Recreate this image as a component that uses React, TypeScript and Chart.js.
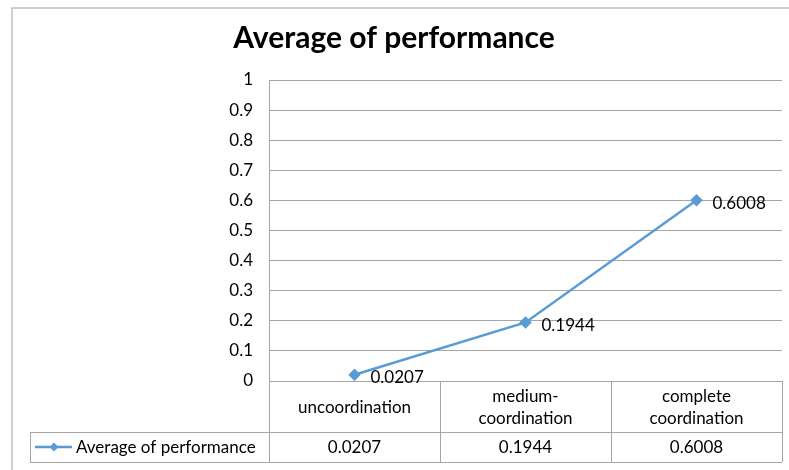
import React, { useEffect, useRef } from "react";
import { Chart, registerables } from "chart.js";

Chart.register(...registerables);

const titleText = "Average of performance";
const seriesName = "Average of performance";
const categories: string[][] = [["uncoordination"], ["medium-", "coordination"], ["complete", "coordination"]];
const values: number[] = [0.0207, 0.1944, 0.6008];
const valueLabels: string[] = ["0.0207", "0.1944", "0.6008"];
const yTickLabels: string[] = ["0", "0.1", "0.2", "0.3", "0.4", "0.5", "0.6", "0.7", "0.8", "0.9", "1"];

const FONT = "Lato, 'Open Sans', sans-serif";
const GRID = "#a6a6a6";
const BLUE = "#5B9BD5";

const tablePlugin = {
  id: "tablePlugin",
  afterDraw(chart: any) {
    const ctx = chart.ctx as CanvasRenderingContext2D;
    const area = chart.chartArea;
    const xs = chart.scales.x;
    const ys = chart.scales.y;
    const n = values.length;
    const colW = (area.right - area.left) / n;
    const row1Top = area.bottom;
    const row2Top = row1Top + 51;
    const row2Bottom = row2Top + 30;
    const legendLeft = 30;

    ctx.save();
    ctx.strokeStyle = "#bfbfbf";
    ctx.lineWidth = 1.5;
    ctx.beginPath();
    ctx.moveTo(12, 470);
    ctx.lineTo(12, 8);
    ctx.lineTo(789, 8);
    ctx.stroke();

    ctx.fillStyle = "#000";
    ctx.font = `bold 30px ${FONT}`;
    ctx.textAlign = "center";
    ctx.textBaseline = "alphabetic";
    ctx.fillText(titleText, 394, 48);

    ctx.strokeStyle = GRID;
    ctx.lineWidth = 1;
    ctx.beginPath();
    ctx.moveTo(area.left, row1Top + 0.5);
    ctx.lineTo(area.right, row1Top + 0.5);
    ctx.moveTo(legendLeft, row2Top + 0.5);
    ctx.lineTo(area.right, row2Top + 0.5);
    ctx.moveTo(legendLeft, row2Bottom + 0.5);
    ctx.lineTo(area.right, row2Bottom + 0.5);
    ctx.moveTo(legendLeft + 0.5, row2Top);
    ctx.lineTo(legendLeft + 0.5, row2Bottom);
    ctx.moveTo(area.left + 0.5, row1Top);
    ctx.lineTo(area.left + 0.5, row2Bottom);
    for (let i = 0; i < n; i++) {
      const xr = Math.round(xs.getPixelForValue(i) + colW / 2) + 0.5;
      ctx.moveTo(xr, row1Top);
      ctx.lineTo(xr, row2Bottom);
    }
    ctx.stroke();

    ctx.fillStyle = "#000";
    ctx.font = `17px ${FONT}`;
    ctx.textAlign = "center";
    ctx.textBaseline = "middle";
    const r1Mid = (row1Top + row2Top) / 2 + 1;
    const r2Mid = (row2Top + row2Bottom) / 2 + 1;
    for (let i = 0; i < n; i++) {
      const cx = xs.getPixelForValue(i);
      const lines = categories[i];
      const lh = 22;
      const start = r1Mid - ((lines.length - 1) * lh) / 2;
      lines.forEach((l, j) => ctx.fillText(l, cx, start + j * lh));
      ctx.fillText(valueLabels[i], cx, r2Mid);
    }

    ctx.strokeStyle = BLUE;
    ctx.lineWidth = 2.5;
    ctx.beginPath();
    ctx.moveTo(35, r2Mid - 1);
    ctx.lineTo(72, r2Mid - 1);
    ctx.stroke();
    ctx.fillStyle = BLUE;
    ctx.beginPath();
    const dx = 54, dy = r2Mid - 1, r = 4.5;
    ctx.moveTo(dx, dy - r);
    ctx.lineTo(dx + r, dy);
    ctx.lineTo(dx, dy + r);
    ctx.lineTo(dx - r, dy);
    ctx.closePath();
    ctx.fill();
    ctx.fillStyle = "#000";
    ctx.textAlign = "left";
    ctx.fillText(seriesName, 76, r2Mid);

    ctx.textBaseline = "middle";
    for (let i = 0; i < n; i++) {
      const px = xs.getPixelForValue(i);
      const py = ys.getPixelForValue(values[i]);
      ctx.fillText(valueLabels[i], px + 16, py + 3);
    }
    ctx.restore();
  },
};

export default function App() {
  const ref = useRef<HTMLCanvasElement | null>(null);
  useEffect(() => {
    document.body.style.margin = "0";
    const canvas = ref.current!;
    const chart = new Chart(canvas, {
      type: "line",
      data: {
        labels: categories.map((c) => c.join(" ")),
        datasets: [
          {
            label: seriesName,
            data: values,
            borderColor: BLUE,
            backgroundColor: BLUE,
            borderWidth: 2.5,
            pointStyle: "rectRot",
            pointRadius: 4.5,
            pointBackgroundColor: BLUE,
            pointBorderColor: BLUE,
            tension: 0,
          },
        ],
      },
      options: {
        responsive: false,
        animation: false,
        layout: { padding: { top: 80, right: 6, bottom: 89, left: 0 } },
        plugins: { legend: { display: false }, title: { display: false }, tooltip: { enabled: false } },
        scales: {
          x: { type: "category", display: false, offset: true },
          y: {
            min: 0,
            max: 1,
            afterFit: (s: any) => {
              s.width = 269;
            },
            ticks: {
              stepSize: 0.1,
              color: "#000",
              padding: 16,
              font: { family: FONT, size: 17 },
              callback: (_v: any, i: number) => yTickLabels[i],
            },
            grid: { color: GRID, drawTicks: false, lineWidth: 1 },
            border: { display: true, color: GRID, width: 1 },
          },
        },
      },
      plugins: [tablePlugin],
    } as any);
    return () => chart.destroy();
  }, []);
  return <canvas ref={ref} width={789} height={470} style={{ display: "block" }} />;
}
